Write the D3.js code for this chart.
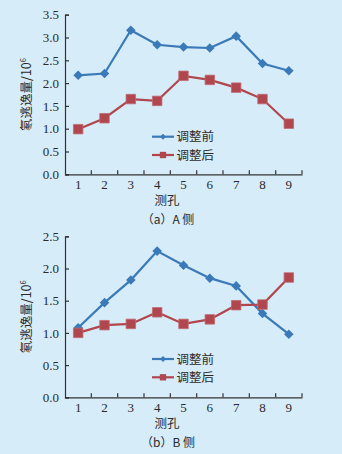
<!DOCTYPE html>
<html><head><meta charset="utf-8">
<script src="https://cdn.jsdelivr.net/npm/d3@7"></script>
<style>
html,body{margin:0;padding:0;background:#d7ecf9;}
svg{display:block;}
text{fill:#2a2a2a;}
</style></head>
<body>
<script>
const holes = [1,2,3,4,5,6,7,8,9];
const seriesNames = ["调整前","调整后"];
const aBefore = [2.17,2.21,3.16,2.84,2.79,2.77,3.03,2.43,2.27];
const aAfter  = [0.99,1.23,1.65,1.61,2.16,2.07,1.90,1.65,1.11];
const bBefore = [1.08,1.47,1.82,2.27,2.05,1.85,1.73,1.30,0.98];
const bAfter  = [1.00,1.12,1.14,1.32,1.14,1.21,1.43,1.44,1.86];
const aTicks = [0,0.5,1,1.5,2,2.5,3,3.5];
const bTicks = [0,0.5,1,1.5,2,2.5];
const yTitle = "氡逃逸量/10";
const yTitleSup = "6";
const xTitle = "测孔";
const captions = ["（a）A 侧","（b）B 侧"];

const W=342,H=454;
const blue="#3a7ab8", red="#b0464e", axisC="#333";
const numFont="'Liberation Serif','Times New Roman',serif";
const cjkFont="'Noto Sans CJK SC','Noto Sans',sans-serif";
const svg=d3.select("body").append("svg").attr("width",W).attr("height",H);

function panel(cfg){
  const g=svg.append("g");
  const x=d3.scaleBand().domain(holes).range([65,302]).paddingInner(0).paddingOuter(0);
  const y=d3.scaleLinear().domain([0,cfg.ymax]).range([cfg.y0,cfg.y1]);
  // y axis
  const ya=g.append("g").attr("transform","translate(65,0)")
    .call(d3.axisLeft(y).tickValues(cfg.ticks).tickSize(-4).tickPadding(6).tickFormat(d3.format(".1f")));
  ya.select(".domain").attr("stroke",axisC).attr("stroke-width",1.2);
  ya.selectAll(".tick line").attr("stroke",axisC).attr("stroke-width",1.2);
  ya.selectAll(".tick text").attr("font-family",numFont).attr("font-size",13).attr("fill","#2a2a2a");
  // x axis
  const xa=g.append("g").attr("transform",`translate(0,${cfg.y0})`)
    .call(d3.axisBottom(x).tickSize(0).tickPadding(5));
  xa.select(".domain").attr("stroke",axisC).attr("stroke-width",1.2);
  xa.selectAll(".tick text").attr("font-family",numFont).attr("font-size",13).attr("fill","#2a2a2a").attr("dy","0.71em");
  // boundary ticks (inward)
  g.append("g").selectAll("line").data(holes).join("line")
    .attr("x1",d=>x(d)+x.bandwidth()).attr("x2",d=>x(d)+x.bandwidth())
    .attr("y1",cfg.y0).attr("y2",cfg.y0-4).attr("stroke",axisC).attr("stroke-width",1.2);
  // lines
  const series=[{v:cfg.before,c:blue,shape:"d"},{v:cfg.after,c:red,shape:"s"}];
  series.forEach(s=>{
    const line=d3.line().x((d,i)=>x(holes[i])+x.bandwidth()/2).y(d=>y(d));
    g.append("path").attr("d",line(s.v)).attr("fill","none").attr("stroke",s.c).attr("stroke-width",2.2);
    const sym = s.shape==="d" ? d3.symbol(d3.symbolDiamond2,58) : d3.symbol(d3.symbolSquare,90);
    g.append("g").selectAll("path").data(s.v).join("path")
      .attr("d",sym)
      .attr("transform",(d,i)=>`translate(${x(holes[i])+x.bandwidth()/2},${y(d)})`)
      .attr("fill",s.c).attr("stroke",s.shape==="s"?"#c06a72":"none").attr("stroke-width",0.8);
  });
  // legend
  series.forEach((s,i)=>{
    const ly=cfg.legY[i];
    g.append("line").attr("x1",152).attr("x2",174).attr("y1",ly).attr("y2",ly).attr("stroke",s.c).attr("stroke-width",2.2);
    const sym = s.shape==="d" ? d3.symbol(d3.symbolDiamond2,22) : d3.symbol(d3.symbolSquare,40);
    g.append("path").attr("d",sym).attr("transform",`translate(163,${ly})`).attr("fill",s.c);
    g.append("text").attr("x",176.5).attr("y",ly+4.6).attr("font-family",cjkFont).attr("font-size",12.5).text(seriesNames[i]);
  });
  // y title
  const yt=g.append("text").attr("transform",`translate(31,${(cfg.y0+cfg.y1)/2}) rotate(-90)`)
    .attr("text-anchor","middle").attr("font-family",cjkFont).attr("font-size",12.5);
  yt.append("tspan").text(yTitle);
  yt.append("tspan").attr("dy",-5).attr("font-size",7.5).text(yTitleSup);
  // x title
  g.append("text").attr("x",167).attr("y",cfg.y0+31).attr("text-anchor","middle")
    .attr("font-family",cjkFont).attr("font-size",12.5).text(xTitle);
  g.append("text").attr("x",168).attr("y",cfg.y0+50).attr("text-anchor","middle")
    .attr("font-family",cjkFont).attr("font-size",12).text(cfg.caption);
}

panel({y0:174.3,y1:14.7,ymax:3.5,ticks:aTicks,before:aBefore,after:aAfter,legY:[136.7,155],caption:captions[0]});
panel({y0:397.3,y1:236.3,ymax:2.5,ticks:bTicks,before:bBefore,after:bAfter,legY:[359,377.3],caption:captions[1]});
</script>
</body></html>
